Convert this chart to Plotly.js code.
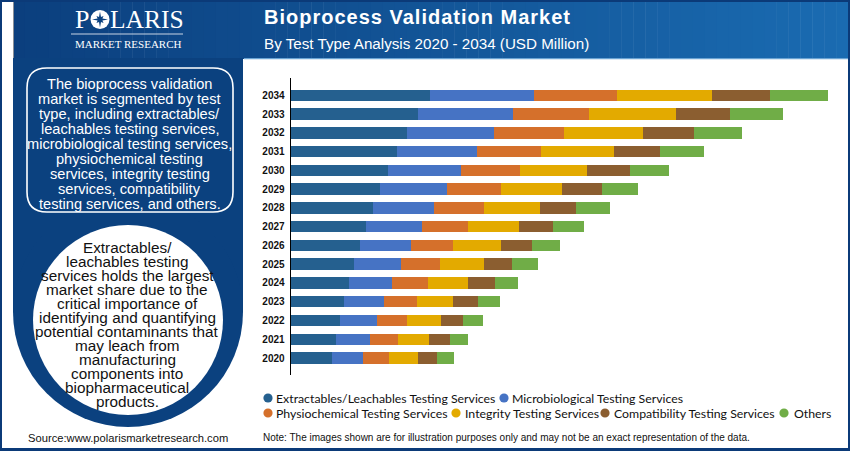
<!DOCTYPE html>
<html>
<head>
<meta charset="utf-8">
<script src="https://cdn.plot.ly/plotly-3.0.1.min.js"></script>
<style>html,body{margin:0;padding:0;background:#fff;overflow:hidden}#chart{width:850px;height:451px}</style>
</head>
<body>
<div id="chart"></div>
<script>
// Values; the reference shows no value axis, so units are relative bar lengths.
const years = ["2020","2021","2022","2023","2024","2025","2026","2027","2028","2029","2030","2031","2032","2033","2034"];
const extractables = [41.3,45.3,49.3,53.3,58.3,63.6,69.3,75.3,82,89.3,97.3,106.3,116.3,127.3,139.3];
const microbiological = [31.3,33.7,37,40,43.3,47,51.3,56,61.3,67,73,80,87,95,103.7];
const physiochemical = [25.7,28,30,33,35.7,38.7,41.7,46,50,54,59,64,70,76,83];
const integrity = [28.7,31,33.7,36.3,40,43.7,47.7,51.3,56,61.3,67,73,79.3,87,95];
const compatibility = [19.3,21.3,22.3,24.7,27,28.3,31.3,33.7,36,39.7,42.7,46,50.4,54,58.3];
const others = [17,18,20,22,23,26,28,30.7,34,36.3,39.6,44,48,52.7,58.3];

const seriesNames = ["Extractables/Leachables Testing Services","Microbiological Testing Services","Physiochemical Testing Services","Integrity Testing Services","Compatibility Testing Services","Others"];
const seriesColors = ["#25608f","#4673c4","#d5702b","#e3aa00","#8b5e30","#70ad47"];
const seriesValues = [extractables,microbiological,physiochemical,integrity,compatibility,others];

const titleText = "Bioprocess Validation Market";
const subtitleText = "By Test Type Analysis 2020 - 2034 (USD Million)";
const boxLines = ["The bioprocess validation","market is segmented by test","type, including extractables/","leachables testing services,","microbiological testing services,","physiochemical testing","services, integrity testing","services, compatibility","testing services, and others."];
const circleLines = ["Extractables/","leachables testing","services holds the largest","market share due to the","critical importance of","identifying and quantifying","potential contaminants that","may leach from","manufacturing","components into","biopharmaceutical","products."];
const sourceText = "Source:www.polarismarketresearch.com";
const noteText = "Note: The images shown are for illustration purposes only and may not be an exact representation of the data.";

const W = 850, H = 451;
const fx = x => x / W, fy = y => 1 - y / H;
const SANS = "Liberation Sans, Arial, sans-serif", SERIF = "Liberation Serif, Times New Roman, serif";

const shapes = [];
const rect = (x0,y0,x1,y1,c) => shapes.push({type:"rect",xref:"paper",yref:"paper",x0:fx(x0),x1:fx(x1),y0:fy(y1),y1:fy(y0),fillcolor:c,line:{width:0},layer:"below"});
const circ = (cx,cy,r,c) => shapes.push({type:"circle",xref:"paper",yref:"paper",x0:fx(cx-r),x1:fx(cx+r),y0:fy(cy+r),y1:fy(cy-r),fillcolor:c,line:{width:0},layer:"below"});

// frame
rect(0,0,850,451,"#0b3a78");
rect(2,2,848,448,"#ffffff");
// header gradient
const left=[11,63,126], right=[26,107,177];
const steps=70;
for(let i=0;i<steps;i++){
  const t=i/(steps-1);
  const c=`rgb(${left.map((v,k)=>Math.round(v+(right[k]-v)*t)).join(",")})`;
  const x0=13+i*(848-13)/steps, x1=13+(i+1)*(848-13)/steps+0.5;
  rect(x0,2,Math.min(x1,848),59,c);
}
// left panel
rect(13,2,14,59,"#8a8f98");
rect(13,58,243,312,"#0b417f");
circ(128,312,115,"#0b417f");
rect(244,59,848,448,"#ffffff");
rect(244,58,848,59.2,"#6aa3d3");
// rounded text box
{
  const x0=27,x1=233,y0=68,y1=212,r=20;
  const p=(x,y)=>`${fx(x)},${fy(y)}`;
  shapes.push({type:"path",xref:"paper",yref:"paper",layer:"below",fillcolor:"rgba(0,0,0,0)",line:{color:"#ffffff",width:1.6},
    path:`M${p(x0+r,y0)} L${p(x1-r,y0)} Q${p(x1,y0)} ${p(x1,y0+r)} L${p(x1,y1-r)} Q${p(x1,y1)} ${p(x1-r,y1)} L${p(x0+r,y1)} Q${p(x0,y1)} ${p(x0,y1-r)} L${p(x0,y0+r)} Q${p(x0,y0)} ${p(x0+r,y0)} Z`});
}
// white circle
circ(128,320,95,"#ffffff");
// logo ring + star
circ(100,19.5,9.5,"#ffffff");
{
  const pts=[];
  for(let i=0;i<16;i++){
    const a=-Math.PI/2+i*Math.PI/8;
    const r=i%4===0?8:(i%2===0?5:2.6);
    pts.push(`${fx(100+r*Math.cos(a))},${fy(19.5+r*Math.sin(a))}`);
  }
  shapes.push({type:"path",xref:"paper",yref:"paper",layer:"below",fillcolor:"#0b417f",line:{width:0},path:"M"+pts.join(" L")+" Z"});
}
rect(71,33.6,183,34.4,"#c8d4e4");

// legend swatches + labels
const legendRows=[
  {i:0,mx:268,tx:275,y:398},{i:1,mx:504,tx:511,y:398},
  {i:2,mx:268,tx:275,y:413},{i:3,mx:456,tx:463.5,y:413},{i:4,mx:605,tx:612.5,y:413},{i:5,mx:784,tx:792.5,y:413}
];
legendRows.forEach(r=>circ(r.mx,r.y,4.6,seriesColors[r.i]));

const annotations=[];
const txt=(text,x,y,size,color,opt={})=>annotations.push(Object.assign({
  text,xref:"paper",yref:"paper",x:fx(x),y:fy(y),xanchor:"left",yanchor:"middle",showarrow:false,borderpad:0,
  font:{family:opt.family||SANS,size,color}},opt.extra||{}));

txt("<b>"+titleText+"</b>",276.5,16.5,20,"#ffffff");
txt(subtitleText,262.5,44,15.2,"#ffffff");
boxLines.forEach((l,i)=>txt(l,129.5,84+i*15,14.6,"#ffffff",{extra:{xanchor:"center"}}));
circleLines.forEach((l,i)=>txt(l,127,247+i*14.05,15.3,"#111111",{extra:{xanchor:"center"}}));
txt(sourceText,27,437.5,11.2,"#111111");
txt(noteText,262,437.5,10,"#111111");
legendRows.forEach(r=>txt(seriesNames[r.i],r.tx,r.y,12.3,"#111111",{family:"Lato, Open Sans, sans-serif"}));
// logo text
txt("P",74,19.5,26,"#ffffff",{family:SERIF});
txt("LARIS",108.5,19.5,25.5,"#ffffff",{family:SERIF});
txt("MARKET RESEARCH",128.5,44,11,"#ffffff",{family:SERIF,extra:{xanchor:"center"}});

const traces = seriesNames.map((n,i)=>({
  type:"bar",orientation:"h",name:n,y:years,x:seriesValues[i],
  marker:{color:seriesColors[i],line:{width:0}},hoverinfo:"skip"
}));

const layout = {
  width:W,height:H,margin:{l:0,r:0,t:0,b:0,pad:0},autosize:false,
  paper_bgcolor:"rgba(0,0,0,0)",plot_bgcolor:"rgba(0,0,0,0)",
  barmode:"stack",bargap:0.39,showlegend:false,
  xaxis:{domain:[fx(290.6),fx(840.6)],range:[0,550],visible:false,fixedrange:true},
  yaxis:{domain:[fy(375),fy(78)],type:"category",categoryorder:"array",categoryarray:years,range:[-0.906,14.92],
    showline:true,linecolor:"#000000",linewidth:1,showgrid:false,zeroline:false,
    ticks:"outside",ticklen:3,tickcolor:"rgba(0,0,0,0)",tickfont:{family:SANS,size:10,color:"#111111",weight:"bold"},fixedrange:true},
  shapes,annotations
};
Plotly.newPlot("chart",traces,layout,{displayModeBar:false,staticPlot:true}).then(gd=>{
  // the reference title is letter-spaced
  document.querySelectorAll("#chart .annotation-text").forEach(t=>{
    if(t.textContent===titleText) t.style.letterSpacing="1px";
  });
});
</script>
</body>
</html>
